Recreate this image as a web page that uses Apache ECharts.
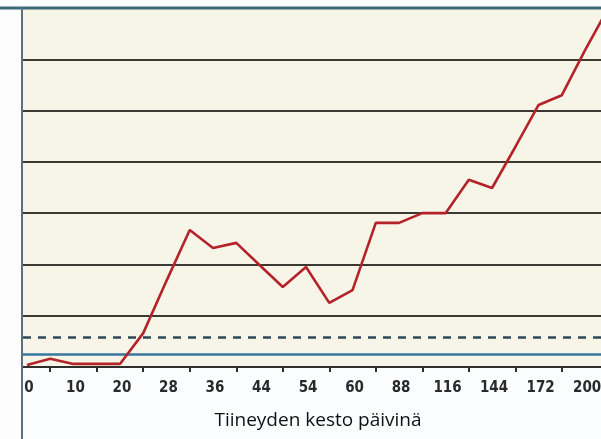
<!DOCTYPE html>
<html>
<head>
<meta charset="utf-8">
<style>
html,body{margin:0;padding:0;background:#fdfdfd;}
#c{width:601px;height:439px;}
</style>
<script src="https://cdn.jsdelivr.net/npm/echarts@6/dist/echarts.min.js"></script>
</head>
<body>
<div id="c"></div>
<script>
// x positions are half-steps between category labels
const tickLabels = ['0','10','20','28','36','44','54','60','88','116','144','172','200'];
const labelPositions = [0,2,4,6,8,10,12,14,16,18,20,22,24];
const tickPositions = [1,3,5,7,9,11,13,15,17,19,21,23];
const lineX = [0,1,2,3,4,5,6,7,8,9,10,11,12,13,14,15,16,17,18,19,20,21,22,23,24,25];
const lineY = [0.04,0.16,0.06,0.06,0.06,0.66,1.68,2.67,2.32,2.42,1.99,1.56,1.95,1.25,1.50,2.81,2.81,3.00,3.00,3.65,3.49,4.29,5.11,5.30,6.18,7.0];
const dashedLevel = 0.58;
const solidLevel = 0.25;
const yTicks = [0,1,2,3,4,5,6,7];

const chart = echarts.init(document.getElementById('c'), null, {renderer:'canvas'});
const labelMap = {};
labelPositions.forEach((p,i)=>{labelMap[p]=tickLabels[i];});

chart.setOption({
  animation:false,
  backgroundColor:'#fbfcfd',
  grid:{left:23, top:8, right:-12, bottom:72, show:true, backgroundColor:'#f7f5e8', borderWidth:0, outerBoundsMode:'none', containLabel:false},
  xAxis:{
    type:'value', min:-0.17, max:25.2,
    name:'Tiineyden kesto päivinä', nameLocation:'middle', nameGap:44,
    nameTextStyle:{fontFamily:'Open Sans', fontSize:19, color:'#111'},
    axisLine:{show:true, onZero:false, lineStyle:{color:'#2e2e2a', width:2}},
    axisTick:{show:true, customValues:tickPositions, length:5, lineStyle:{color:'#2e2e2a', width:2}},
    axisLabel:{show:true, customValues:labelPositions, margin:14, padding:[0,0,0,4],
      formatter:(v)=>labelMap[Math.round(v)] ?? '',
      fontFamily:'DejaVu Sans Condensed, sans-serif', fontWeight:'bold', fontSize:15, color:'#2a2a2a'},
    splitLine:{show:false}
  },
  yAxis:{
    type:'value', min:yTicks[0], max:yTicks[yTicks.length-1], interval:1,
    axisLine:{show:false}, axisTick:{show:false}, axisLabel:{show:false},
    splitLine:{show:true, lineStyle:{color:'#3a3a32', width:2}}
  },
  graphic:[
    {type:'line', shape:{x1:0,y1:8,x2:601,y2:8}, style:{stroke:'#3e6877', lineWidth:3}, z:100},
    {type:'line', shape:{x1:22,y1:7,x2:22,y2:439}, style:{stroke:'#5d6f7e', lineWidth:2}, z:100},
    {type:'rect', shape:{x:0,y:0,width:21,height:439}, style:{fill:'#fdfdfd'}, z:99},
    {type:'rect', shape:{x:0,y:0,width:601,height:7}, style:{fill:'#fdfdfd'}, z:99}
  ],
  series:[
    {
      type:'line', data:lineX.map((x,i)=>[x,lineY[i]]), symbol:'none',
      lineStyle:{color:'#b5232a', width:2.6}, z:10, clip:true,
      markLine:{
        silent:true, symbol:['none','none'], label:{show:false},
        data:[
          {yAxis:dashedLevel, lineStyle:{color:'#30495a', width:2.5, type:[8,7]}},
          {yAxis:solidLevel, lineStyle:{color:'#3a77a0', width:2.5, type:'solid'}}
        ]
      }
    }
  ]
});
</script>
</body>
</html>
